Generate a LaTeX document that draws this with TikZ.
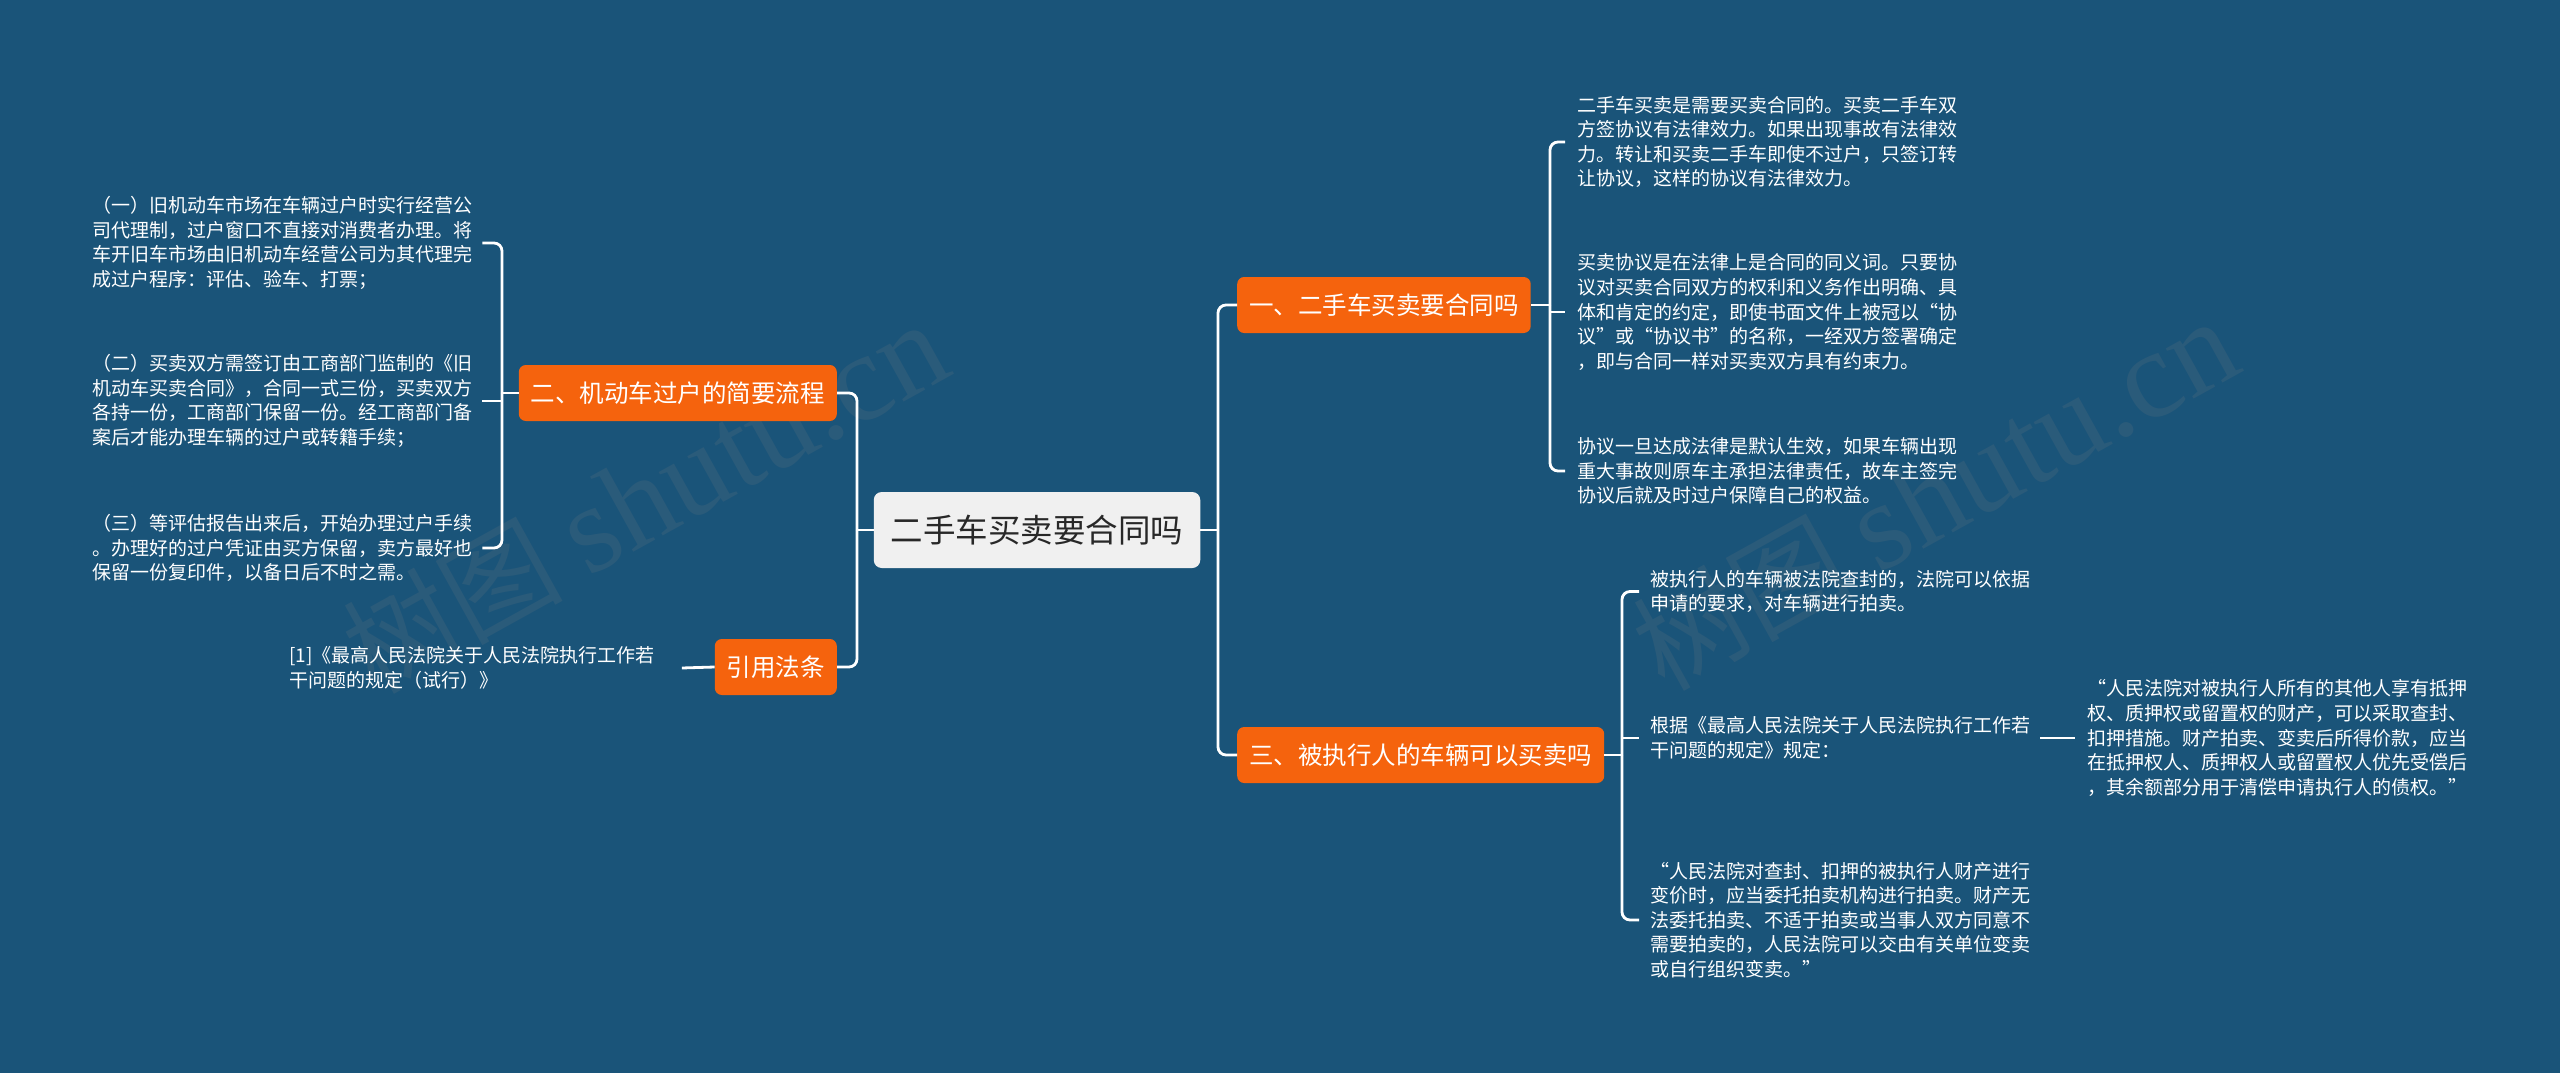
\documentclass[tikz,border=0pt]{standalone}
\usepackage{fontspec}
\setmainfont{Noto Sans CJK SC}
\newfontfamily\wmserif{Liberation Serif}
\usetikzlibrary{calc}
\definecolor{bgblue}{RGB}{26,84,121}
\definecolor{orng}{RGB}{245,99,13}
\definecolor{cgray}{RGB}{240,240,240}
\definecolor{ctext}{RGB}{40,40,40}
\begin{document}
\begin{tikzpicture}[x=1pt,y=-1pt,
  conn/.style={draw=white,line width=2.8pt,rounded corners=8pt},
  topic/.style={fill=orng,text=white,rounded corners=7pt,inner xsep=12pt,inner ysep=0pt,minimum height=56pt,font=\fontsize{24.5}{28}\selectfont},
  central/.style={fill=cgray,text=ctext,rounded corners=8pt,inner xsep=17pt,inner ysep=0pt,minimum height=76pt,font=\fontsize{32.5}{36}\selectfont},
  leaf/.style={text=white,align=left,inner sep=0pt,font=\fontsize{19}{24.6}\selectfont},
  wm/.style={text=gray,opacity=0.16,rotate=29,inner sep=0pt,font=\fontsize{110}{120}\selectfont}]
\useasboundingbox (0,0) rectangle (2560,1073);
\fill[bgblue] (0,0) rectangle (2560,1073);

% watermarks
\node[wm] (wm1) at (645,498) {树图 {\wmserif\fontsize{125}{130}\selectfont shutu.cn}};
\node[wm] (wm2) at (1935,495) {树图 {\wmserif\fontsize{125}{130}\selectfont shutu.cn}};

% central and topics
\node[central] (c) at (1037,530) {二手车买卖要合同吗};
\node[topic,anchor=west] (b1) at (1237,305) {一、二手车买卖要合同吗};
\node[topic,anchor=west] (b3) at (1237,755) {三、被执行人的车辆可以买卖吗};
\node[topic,anchor=east] (b2) at (837,393) {二、机动车过户的简要流程};
\node[topic,anchor=east] (b4) at (837,667) {引用法条};

% right group 1
\node[leaf,anchor=west] (t11) at (1577,142) {二手车买卖是需要买卖合同的。买卖二手车双\\方签协议有法律效力。如果出现事故有法律效\\力。转让和买卖二手车即使不过户，只签订转\\让协议，这样的协议有法律效力。};
\node[leaf,anchor=west] (t12) at (1577,312) {买卖协议是在法律上是合同的同义词。只要协\\议对买卖合同双方的权利和义务作出明确、具\\体和肯定的约定，即使书面文件上被冠以“协\\议”或“协议书”的名称，一经双方签署确定\\，即与合同一样对买卖双方具有约束力。};
\node[leaf,anchor=west] (t13) at (1577,471) {协议一旦达成法律是默认生效，如果车辆出现\\重大事故则原车主承担法律责任，故车主签完\\协议后就及时过户保障自己的权益。};

% right group 3
\node[leaf,anchor=west] (t31) at (1650,591.5) {被执行人的车辆被法院查封的，法院可以依据\\申请的要求，对车辆进行拍卖。};
\node[leaf,anchor=west] (t32) at (1650,738) {根据《最高人民法院关于人民法院执行工作若\\干问题的规定》规定：};
\node[leaf,anchor=west] (t33) at (1650,920) {“人民法院对查封、扣押的被执行人财产进行\\变价时，应当委托拍卖机构进行拍卖。财产无\\法委托拍卖、不适于拍卖或当事人双方同意不\\需要拍卖的，人民法院可以交由有关单位变卖\\或自行组织变卖。”};
\node[leaf,anchor=west] (t34) at (2087,738) {“人民法院对被执行人所有的其他人享有抵押\\权、质押权或留置权的财产，可以采取查封、\\扣押措施。财产拍卖、变卖后所得价款，应当\\在抵押权人、质押权人或留置权人优先受偿后\\，其余额部分用于清偿申请执行人的债权。”};

% left group
\node[leaf,anchor=west] (l1) at (92,243) {（一）旧机动车市场在车辆过户时实行经营公\\司代理制，过户窗口不直接对消费者办理。将\\车开旧车市场由旧机动车经营公司为其代理完\\成过户程序：评估、验车、打票；};
\node[leaf,anchor=west] (l2) at (92,401) {（二）买卖双方需签订由工商部门监制的《旧\\机动车买卖合同》，合同一式三份，买卖双方\\各持一份，工商部门保留一份。经工商部门备\\案后才能办理车辆的过户或转籍手续；};
\node[leaf,anchor=west] (l3) at (92,548) {（三）等评估报告出来后，开始办理过户手续\\。办理好的过户凭证由买方保留，卖方最好也\\保留一份复印件，以备日后不时之需。};
\node[leaf,anchor=west] (r1) at (289,668) {[1]《最高人民法院关于人民法院执行工作若\\干问题的规定（试行）》};

% junctions
\coordinate (jr) at (1218,530);
\coordinate (jl) at (857,530);
\coordinate (j1) at (1550,305);
\coordinate (j3) at (1622,755);
\coordinate (j2) at (502,393);

% central connectors
\draw[conn] (c.east) -- (jr);
\draw[conn] (jr) |- (b1.west);
\draw[conn] (jr) |- (b3.west);
\draw[conn] (c.west) -- (jl);
\draw[conn] (jl) |- (b2.east);
\draw[conn] (jl) |- (b4.east);

% group 1
\draw[conn] (b1.east) -- (j1);
\draw[conn] (j1) |- ([xshift=-12pt]t11.west);
\draw[conn,sharp corners] (j1) |- ([xshift=-12pt]t12.west);
\draw[conn] (j1) |- ([xshift=-12pt]t13.west);

% group 3
\draw[conn] (b3.east) -- (j3);
\draw[conn] (j3) |- ([xshift=-11pt]t31.west);
\draw[conn,sharp corners] (j3) |- ([xshift=-11pt]t32.west);
\draw[conn] (j3) |- ([xshift=-11pt]t33.west);
\draw[conn] ([xshift=10pt]t32.east) -- ([xshift=-12pt]t34.west);

% group 2
\draw[conn] (b2.west) -- (j2);
\draw[conn] (j2) |- ([xshift=10pt]l1.east);
\draw[conn,sharp corners] (j2) |- ([xshift=10pt]l2.east);
\draw[conn] (j2) |- ([xshift=10pt]l3.east);

% reference
\draw[conn] (b4.west) -- ([xshift=27pt]r1.east);
\end{tikzpicture}
\end{document}
